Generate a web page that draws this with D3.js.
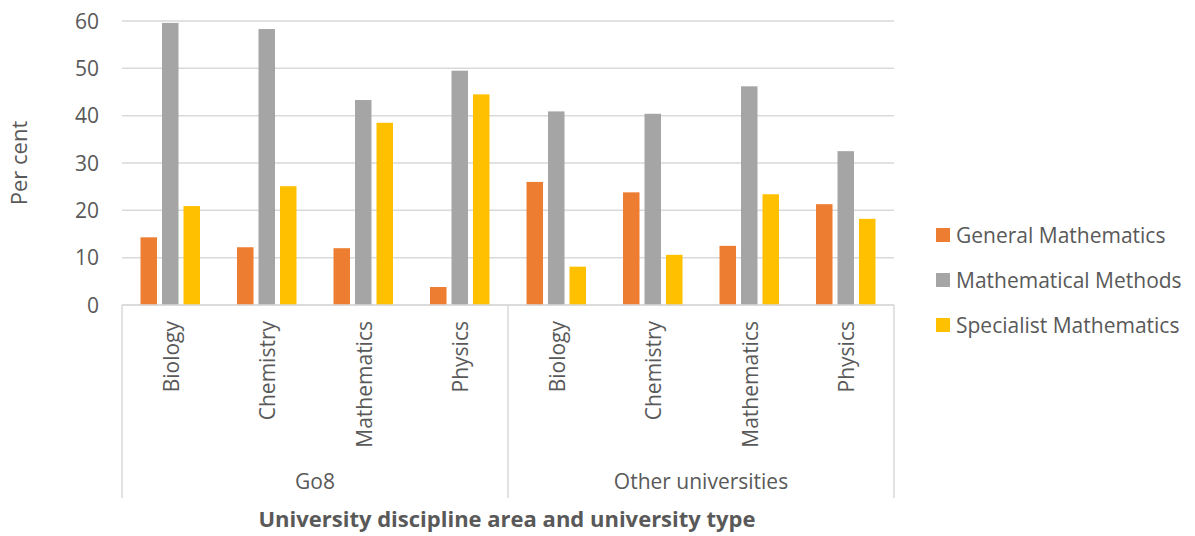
<!DOCTYPE html>
<html><head><meta charset="utf-8">
<script src="https://cdn.jsdelivr.net/npm/d3@7"></script>
<style>
html,body{margin:0;padding:0;background:#fff;}
svg text{font-family:"Open Sans",sans-serif;fill:#595959;}
</style></head>
<body><svg id="c" width="1195" height="536"></svg>
<script>
const groups = ["Go8", "Other universities"];
const disciplines = ["Biology", "Chemistry", "Mathematics", "Physics"];
const seriesNames = ["General Mathematics", "Mathematical Methods", "Specialist Mathematics"];
const generalMaths    = [14.3, 12.2, 12.0, 3.8, 26.0, 23.8, 12.5, 21.3];
const mathMethods     = [59.6, 58.3, 43.3, 49.5, 40.9, 40.4, 46.2, 32.5];
const specialistMaths = [20.9, 25.1, 38.5, 44.5, 8.1, 10.6, 23.4, 18.2];
const yTicks = [0, 10, 20, 30, 40, 50, 60];
const colors = ["#ED7D31", "#A5A5A5", "#FFC000"];

(function () {
const seriesValues = [generalMaths, mathMethods, specialistMaths];
const cats = [];
groups.forEach((g, gi) => disciplines.forEach((d, di) => cats.push({g, d, i: gi * disciplines.length + di})));

const svg = d3.select("#c");
const pL = 122, pR = 894, pT = 21, pB = 305;
const y = d3.scaleLinear().domain([0, 60]).range([pB, pT]);
const x0 = d3.scaleBand().domain(cats.map(c => c.i)).range([pL, pR]);
const x1 = d3.scaleBand().domain(seriesNames).range([0, x0.bandwidth()]).paddingInner(0.2326).paddingOuter(0.861);
const xg = d3.scaleBand().domain(groups).range([pL, pR]);

svg.append("g").selectAll("line").data(yTicks).join("line")
  .attr("x1", pL).attr("x2", pR)
  .attr("y1", d => y(d)).attr("y2", d => y(d))
  .attr("stroke", "#d9d9d9").attr("stroke-width", 1.5);

svg.append("g").selectAll("text").data(yTicks).join("text")
  .attr("x", 99).attr("y", d => y(d)).attr("dy", "0.36em")
  .attr("text-anchor", "end").attr("font-size", 21).text(d => d);

seriesValues.forEach((vals, si) => {
  svg.append("g").selectAll("rect").data(cats).join("rect")
    .attr("x", c => x0(c.i) + x1(seriesNames[si]))
    .attr("width", x1.bandwidth())
    .attr("y", c => y(vals[c.i]))
    .attr("height", c => y(0) - y(vals[c.i]))
    .attr("fill", colors[si]);
});

svg.append("line").attr("x1", pL).attr("x2", pR).attr("y1", y(0)).attr("y2", y(0))
  .attr("stroke", "#d9d9d9").attr("stroke-width", 1.5);

const divX = [pL, ...groups.map(g => xg(g) + xg.bandwidth())];
svg.append("g").selectAll("line").data(divX).join("line")
  .attr("x1", d => d).attr("x2", d => d).attr("y1", y(0)).attr("y2", 498)
  .attr("stroke", "#d9d9d9").attr("stroke-width", 1.5);

svg.append("g").selectAll("text").data(cats).join("text")
  .attr("transform", c => `translate(${x0(c.i) + x0.bandwidth() / 2 + 1},321) rotate(-90)`)
  .attr("dy", "0.35em").attr("text-anchor", "end").attr("font-size", 21).text(c => c.d);

svg.append("g").selectAll("text").data(groups).join("text")
  .attr("x", g => xg(g) + xg.bandwidth() / 2).attr("y", 482).attr("dy", "0.35em")
  .attr("text-anchor", "middle").attr("font-size", 21).text(g => g);

svg.append("text").attr("x", 507).attr("y", 519).attr("dy", "0.35em")
  .attr("text-anchor", "middle").attr("font-size", 22).attr("font-weight", "bold")
  .text("University discipline area and university type");
svg.append("text").attr("transform", "translate(19,163) rotate(-90)").attr("dy", "0.35em")
  .attr("text-anchor", "middle").attr("font-size", 22).text("Per cent");

const lg = svg.append("g").selectAll("g").data(seriesNames).join("g")
  .attr("transform", (d, i) => `translate(936,${228 + i * 45})`);
lg.append("rect").attr("width", 14).attr("height", 14).attr("fill", (d, i) => colors[i]);
lg.append("text").attr("x", 20).attr("y", 7).attr("dy", "0.36em").attr("font-size", 21).text(d => d);
})();
</script></body></html>
